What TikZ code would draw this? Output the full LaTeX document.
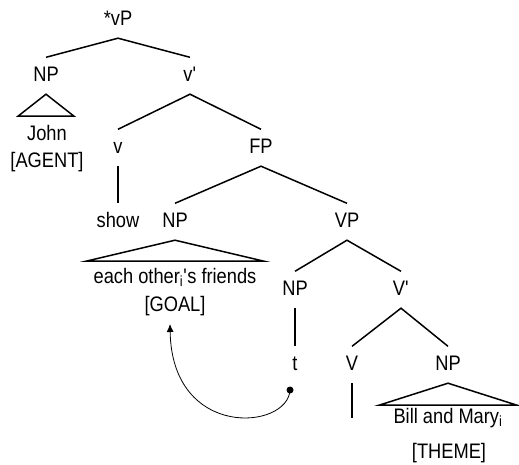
\documentclass[tikz,border=0pt]{standalone}
\usepackage{fontspec}
\setmainfont{Liberation Sans}[FakeStretch=0.87]
\usetikzlibrary{arrows.meta,positioning,calc}
\tikzset{
	syntax tree/.style={
		x=1pt,y=-1pt, % pixel grid, y downwards
		font=\fontsize{21}{25}\selectfont,
		branch/.style={line width=1.5pt},
		roof/.style={line width=1.5pt,line join=miter},
		trace/.style={
			line width=0.8pt,
			-{Latex[length=8pt,width=7pt]}
		}
	},
	category/.style={
		anchor=base,
		inner sep=0pt,
		text height=23.5pt,text depth=13pt % gap above and below the label
	},
	leaf/.style={
		anchor=base,
		inner sep=0pt
	},
	trace dot/.style={
		circle,
		fill,
		inner sep=0pt,
		minimum size=7pt
	}
}

\begin{document}
\begin{tikzpicture}[syntax tree]
		\useasboundingbox (0,0) rectangle (519,464);
		% categories
		\node[category] (vP) at (118,25) {*vP};
		\node[category] (npAgent) at (46,81) {NP};
		\node[category] (vBar) at (190,81) {v\textquotesingle};
		\node[category] (vHead) at (118,153) {v};
		\node[category] (fP) at (261,153) {FP};
		\node[category] (show) at (118,227) {show};
		\node[category] (npGoal) at (175,227) {NP};
		\node[category] (vP2) at (347,227) {VP};
		\node[category] (npTrace) at (295,295) {NP};
		\node[category] (VBar) at (401,295) {V\textquotesingle};
		\node[category] (t) at (295,370) {t};
		\node[category] (VHead) at (352,370) {V};
		\node[category] (npTheme) at (448,370) {NP};
		% leaves
		\node[leaf] (john) at (47,140) {John};
		\node[leaf] (agent) at (47,167) {[AGENT]};
		\node[leaf] (eachOther) at (175,283) {each other\textsubscript{i}\textquotesingle s friends};
		\node[leaf] (goal) at (175,311) {[GOAL]};
		\node[leaf] (billMary) at (448,423) {Bill and Mary\textsubscript{i}};
		\node[leaf] (theme) at (449,458) {[THEME]};
		\coordinate (VEnd) at (352,418);
		% branches
		\draw[branch] (npAgent.north) -- (vP.south) -- (vBar.north);
		\draw[branch] (vHead.north) -- (vBar.south) -- (fP.north);
		\draw[branch] (vHead.south) -- (show.north);
		\draw[branch] (npGoal.north) -- (fP.south) -- (vP2.north);
		\draw[branch] (npTrace.north) -- (vP2.south) -- (VBar.north);
		\draw[branch] (npTrace.south) -- (t.north);
		\draw[branch] (VHead.north) -- (VBar.south) -- (npTheme.north);
		\draw[branch] (VHead.south) -- (VEnd);
		% roofs
		\draw[roof] (npAgent.south) -- ++(-28,22) -- ++(56,0) -- cycle;
		\draw[roof] (npGoal.south) -- ++(-89,21) -- ++(178,0) -- cycle;
		\draw[roof] (npTheme.south) -- ++(-69,22) -- ++(138,0) -- cycle;
		% movement
		\node[trace dot] (tDot) at (290,390) {};
		\coordinate (goalTip) at (170,324);
		\draw[trace] (tDot.center) .. controls (288,430) and (172,440) .. (goalTip);
	\end{tikzpicture}
\end{document}
